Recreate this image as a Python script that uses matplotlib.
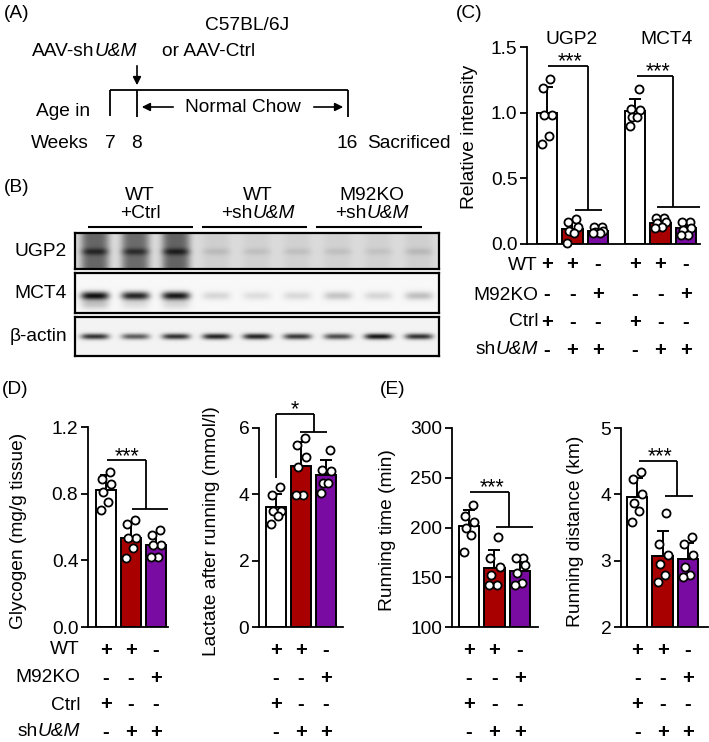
import numpy as np
import matplotlib.pyplot as plt
from matplotlib.transforms import blended_transform_factory

# fonts: Arial-like
plt.rcParams["font.family"] = ["Liberation Sans", "DejaVu Sans"]
plt.rcParams["font.size"] = 13.8
plt.rcParams["axes.linewidth"] = 1.3

# ---- data ----
# (B) western blot band strength per lane (3 WT+Ctrl, 3 WT+shU&M, 3 M92KO+shU&M)
ugp2_band = [0.26, 0.25, 0.28, 0.08, 0.07, 0.07, 0.07, 0.06, 0.09]
ugp2_smear = [0.46, 0.44, 0.47, 0.05, 0.04, 0.04, 0.04, 0.04, 0.05]
mct4_band = [0.90, 0.82, 0.87, 0.13, 0.10, 0.12, 0.20, 0.13, 0.22]
mct4_smear = [0.20, 0.10, 0.12, 0.0, 0.0, 0.0, 0.0, 0.0, 0.0]
actin_band = [0.74, 0.58, 0.74, 0.80, 0.80, 0.72, 0.64, 0.86, 0.74]
blot_names = ["UGP2", "MCT4", "β-actin"]

# (C) relative intensity
ugp2_wt_ctrl = [1.26, 1.19, 0.98, 0.98, 0.82, 0.76]
ugp2_wt_sh = [0.19, 0.17, 0.13, 0.10, 0.08, 0.01]
ugp2_ko_sh = [0.13, 0.13, 0.10, 0.09, 0.08, 0.08]
mct4_wt_ctrl = [1.18, 1.03, 1.02, 0.97, 0.97, 0.90]
mct4_wt_sh = [0.20, 0.195, 0.17, 0.157, 0.13, 0.12]
mct4_ko_sh = [0.17, 0.17, 0.12, 0.11, 0.07, 0.07]

# (D) glycogen (mg/g tissue) and lactate after running (mmol/l)
glyc_wt_ctrl = [0.93, 0.89, 0.86, 0.81, 0.75, 0.70]
glyc_wt_sh = [0.64, 0.62, 0.535, 0.535, 0.475, 0.415]
glyc_ko_sh = [0.585, 0.55, 0.495, 0.495, 0.42, 0.42]
lac_wt_ctrl = [4.22, 3.98, 3.50, 3.49, 3.34, 3.10]
lac_wt_sh = [5.70, 5.48, 5.12, 4.82, 3.98, 3.98]
lac_ko_sh = [5.33, 4.73, 4.70, 4.34, 4.34, 4.04]

# (E) running time (min) and running distance (km)
time_wt_ctrl = [223, 212, 206, 200, 192, 175]
time_wt_sh = [190, 169, 160, 152, 142, 142]
time_ko_sh = [169, 169, 162, 154, 144, 142]
dist_wt_ctrl = [4.34, 4.23, 4.00, 3.87, 3.75, 3.59]
dist_wt_sh = [3.72, 3.25, 3.08, 2.95, 2.78, 2.68]
dist_ko_sh = [3.35, 3.25, 3.08, 2.90, 2.78, 2.75]

# condition table under the bars (italic part after "|")
row_labels = ["WT", "M92KO", "Ctrl", "sh|U&M"]
wt_signs = ["+", "+", "-"]
ko_signs = ["-", "-", "+"]
ctrl_signs = ["+", "-", "-"]
sh_signs = ["-", "+", "+"]

# ---- style ----
colors = ["white", "#A80000", "#7A0BA2"]
jitter = np.array([0.14, -0.16, 0.2, -0.12, 0.08, -0.2])

W, H = 709, 742
fig = plt.figure(figsize=(W / 100, H / 100), dpi=100)
renderer = fig.canvas.get_renderer()

# overlay axes in pixel coordinates for schematic and labels
ov = fig.add_axes([0, 0, 1, 1])
ov.set_xlim(0, W)
ov.set_ylim(H, 0)
ov.axis("off")


def add_ax(left, top, right, bottom):
    return fig.add_axes([left / W, 1 - bottom / H, (right - left) / W, (bottom - top) / H])


def line(xs, ys, lw=1.3):
    ov.plot(xs, ys, color="black", lw=lw, solid_capstyle="butt")


def mtext(x, y, s, ha="left", **kw):
    """text with an italic tail after '|' (for shU&M)"""
    parts = s.split("|")
    styles = ["normal", "italic"]
    arts = [ov.text(0, y, p, ha="left", va="center", fontstyle=st, **kw)
            for p, st in zip(parts, styles)]
    widths = [a.get_window_extent(renderer).width for a in arts]
    total = sum(widths)
    x0 = {"left": x, "center": x - total / 2, "right": x - total}[ha]
    for a, w in zip(arts, widths):
        a.set_x(x0)
        x0 += w


# ---- (A) timeline ----
ov.text(17, 13, "(A)", ha="center", va="center")
ov.text(247, 25, "C57BL/6J", ha="center", va="center")
mtext(32, 52, "AAV-sh|U&M")
ov.text(162, 52, "or AAV-Ctrl", ha="left", va="center")
ov.annotate("", xy=(137, 88), xytext=(137, 63),
            arrowprops=dict(arrowstyle="-|>", color="black", lw=1.2, mutation_scale=12))
line([110, 348], [90, 90])
line([110, 110], [90, 116])
line([137, 137], [90, 117])
line([348, 348], [90, 117])
ov.text(243, 107, "Normal Chow", ha="center", va="center")
ov.annotate("", xy=(139, 107), xytext=(176, 107),
            arrowprops=dict(arrowstyle="-|>", color="black", lw=1.2, mutation_scale=12))
ov.annotate("", xy=(346, 107), xytext=(311, 107),
            arrowprops=dict(arrowstyle="-|>", color="black", lw=1.2, mutation_scale=12))
ov.text(63, 112, "Age in", ha="center", va="center")
ov.text(31, 143, "Weeks", ha="left", va="center")
ov.text(110, 143, "7", ha="center", va="center")
ov.text(137, 143, "8", ha="center", va="center")
ov.text(347, 143, "16", ha="center", va="center")
ov.text(367, 143, "Sacrificed", ha="left", va="center")

# ---- (B) blots ----
ov.text(17, 188, "(B)", ha="center", va="center")
group_x = [140, 258, 372]
group_top = ["WT", "WT", "M92KO"]
group_bot = ["+Ctrl", "+sh|U&M", "+sh|U&M"]
group_span = [(88, 193), (202, 307), (316, 422)]
for gx, t1, t2, (a, b) in zip(group_x, group_top, group_bot, group_span):
    ov.text(gx, 196, t1, ha="center", va="center")
    mtext(gx, 214, t2, ha="center")
    line([a, b], [227, 227], lw=1.5)

blot_boxes = [(75, 233, 439, 269), (75, 273, 439, 313), (75, 317, 439, 356)]
blot_bg = [0.86, 0.97, 0.95]
blot_band_y = [0.52, 0.58, 0.5]
blot_sigma = [3.5, 4.0, 3.0]
blot_data = [(ugp2_band, ugp2_smear), (mct4_band, mct4_smear), (actin_band, [0] * 9)]

for k, (box, (band, smear)) in enumerate(zip(blot_boxes, blot_data)):
    l, t, r, b = box
    bw, bh = r - l, b - t
    ax = add_ax(l, t, r, b)
    xx, yy = np.meshgrid(np.arange(bw) + 0.5, np.arange(bh) + 0.5)
    img = np.full(xx.shape, blot_bg[k])
    yc = blot_band_y[k] * bh
    for i in range(9):
        cx = 20 + 40.5 * i
        lane = np.exp(-((xx - cx) / 14.0) ** 4)
        vert = np.exp(-((yy - yc) / blot_sigma[k]) ** 2)
        if k == 0:
            sm = np.ones_like(yy)
        else:
            sm = np.exp(-((yy - yc - 8) / 5.0) ** 2)
        img = img - lane * (band[i] * vert + smear[i] * sm)
    ax.imshow(np.clip(img, 0, 1), cmap="gray", vmin=0, vmax=1,
              extent=(0, bw, bh, 0), aspect="auto", interpolation="bilinear")
    ax.set_xticks([])
    ax.set_yticks([])
    for s in ax.spines.values():
        s.set_linewidth(1.6)
    ov.text(67, (t + b) / 2, blot_names[k], ha="right", va="center")


# ---- bar chart helpers ----
def bar_panel(ax, groups, positions, ylim, yticks, yticklabels):
    for pos, vals, col in zip(positions, groups, colors * 2):
        vals = np.array(vals, dtype=float)
        m = vals.mean()
        sd = vals.std(ddof=1)
        ax.bar(pos, m - ylim[0], bottom=ylim[0], width=0.8, color=col,
               edgecolor="black", linewidth=1.4, zorder=2)
        ax.errorbar(pos, m, yerr=[[0], [sd]], fmt="none", ecolor="black",
                    elinewidth=1.4, capsize=4, capthick=1.4, zorder=1)
        ax.scatter(pos + jitter[:len(vals)], vals, s=34, facecolor="white",
                   edgecolor="black", linewidth=1.3, zorder=4, clip_on=False)
    ax.set_ylim(*ylim)
    ax.set_yticks(yticks)
    ax.set_yticklabels(yticklabels)
    ax.spines[["top", "right"]].set_visible(False)
    ax.tick_params(axis="x", bottom=False, labelbottom=False)
    ax.tick_params(axis="y", length=5, width=1.3, pad=2)
    ax.patch.set_alpha(0)


def bracket(ax, x0, xm, x1, x2, ytop, ylow, label, xt, ystart=None):
    kw = dict(color="black", lw=1.3, clip_on=False, solid_capstyle="butt")
    if ystart is not None:
        ax.plot([x0, x0], [ystart, ytop], **kw)
    ax.plot([x0, xm], [ytop, ytop], **kw)
    ax.plot([xm, xm], [ytop, ylow], **kw)
    ax.plot([x1, x2], [ylow, ylow], **kw)
    ax.annotate(label, (xt, ytop), xytext=(0, -1), textcoords="offset points",
                ha="center", va="baseline", fontsize=15.5, annotation_clip=False)


def sign_table(ax, positions, rows_y, signs_rows, label_x=None):
    tr = blended_transform_factory(ax.transData, ov.transData)
    for ry, signs, lab in zip(rows_y, signs_rows, row_labels):
        for p, s in zip(positions, signs):
            ax.text(p, ry, s, transform=tr, ha="center", va="center",
                    fontweight="bold", fontsize=14.5)
        if label_x is not None:
            mtext(label_x, ry, lab, ha="right")


# ---- (C) ----
ov.text(469, 13, "(C)", ha="center", va="center")
axc = add_ax(527, 47, 700, 244)
pos_c = [0, 1, 2, 3.45, 4.45, 5.45]
bar_panel(axc, [ugp2_wt_ctrl, ugp2_wt_sh, ugp2_ko_sh, mct4_wt_ctrl, mct4_wt_sh, mct4_ko_sh],
          pos_c, (0, 1.5), [0, 0.5, 1.0, 1.5], ["0.0", "0.5", "1.0", "1.5"])
axc.set_xlim(-0.78, 6.0)
bracket(axc, 0.05, 1.6, 1.1, 2.15, 1.355, 0.26, "***", 0.9)
bracket(axc, 3.53, 4.95, 4.3, 6.0, 1.28, 0.28, "***", 4.35)
ov.text(572, 40, "UGP2", ha="center", va="center")
ov.text(667, 40, "MCT4", ha="center", va="center")
ov.text(470, 137, "Relative intensity", ha="center", va="center", rotation=90)
sign_table(axc, pos_c, [265, 295, 322, 350],
           [wt_signs * 2, ko_signs * 2, ctrl_signs * 2, sh_signs * 2], label_x=538)

# ---- (D) ----
ov.text(15, 390, "(D)", ha="center", va="center")
rows_de = [650, 678, 705, 732]
signs_de = [wt_signs, ko_signs, ctrl_signs, sh_signs]
pos3 = [0, 1, 2]

axd1 = add_ax(88, 427, 168, 627)
bar_panel(axd1, [glyc_wt_ctrl, glyc_wt_sh, glyc_ko_sh], pos3, (0, 1.2),
          [0, 0.4, 0.8, 1.2], ["0.0", "0.4", "0.8", "1.2"])
axd1.set_xlim(-0.72, 2.48)
bracket(axd1, 0.04, 1.6, 1.04, 2.48, 1.0, 0.71, "***", 0.84)
ov.text(19, 531, "Glycogen (mg/g tissue)", ha="center", va="center", rotation=90)
sign_table(axd1, pos3, rows_de, signs_de, label_x=80)

axd2 = add_ax(259, 428, 343, 627)
bar_panel(axd2, [lac_wt_ctrl, lac_wt_sh, lac_ko_sh], pos3, (0, 6),
          [0, 2, 4, 6], ["0", "2", "4", "6"])
axd2.set_xlim(-0.68, 2.68)
bracket(axd2, 0.0, 1.5, 0.96, 2.04, 6.42, 5.87, "*", 0.76, ystart=4.49)
ov.text(211, 531, "Lactate after running (mmol/l)", ha="center", va="center", rotation=90)
sign_table(axd2, pos3, rows_de, signs_de)

# ---- (E) ----
ov.text(393, 390, "(E)", ha="center", va="center")
axe1 = add_ax(452, 428, 538, 627)
bar_panel(axe1, [time_wt_ctrl, time_wt_sh, time_ko_sh], pos3, (100, 300),
          [100, 150, 200, 250, 300], ["100", "150", "200", "250", "300"])
axe1.set_xlim(-0.67, 2.71)
bracket(axe1, 0.04, 1.57, 1.06, 2.5, 236, 201, "***", 0.9)
ov.text(387, 530, "Running time (min)", ha="center", va="center", rotation=90)
sign_table(axe1, pos3, rows_de, signs_de)

axe2 = add_ax(621, 428, 708, 627)
bar_panel(axe2, [dist_wt_ctrl, dist_wt_sh, dist_ko_sh], pos3, (2, 5),
          [2, 3, 4, 5], ["2", "3", "4", "5"])
axe2.set_xlim(-0.64, 2.79)
bracket(axe2, 0.08, 1.57, 1.1, 2.2, 4.5, 3.98, "***", 0.9)
ov.text(575, 531, "Running distance (km)", ha="center", va="center", rotation=90)
sign_table(axe2, pos3, rows_de, signs_de)

fig.savefig("out.png", dpi=100)
